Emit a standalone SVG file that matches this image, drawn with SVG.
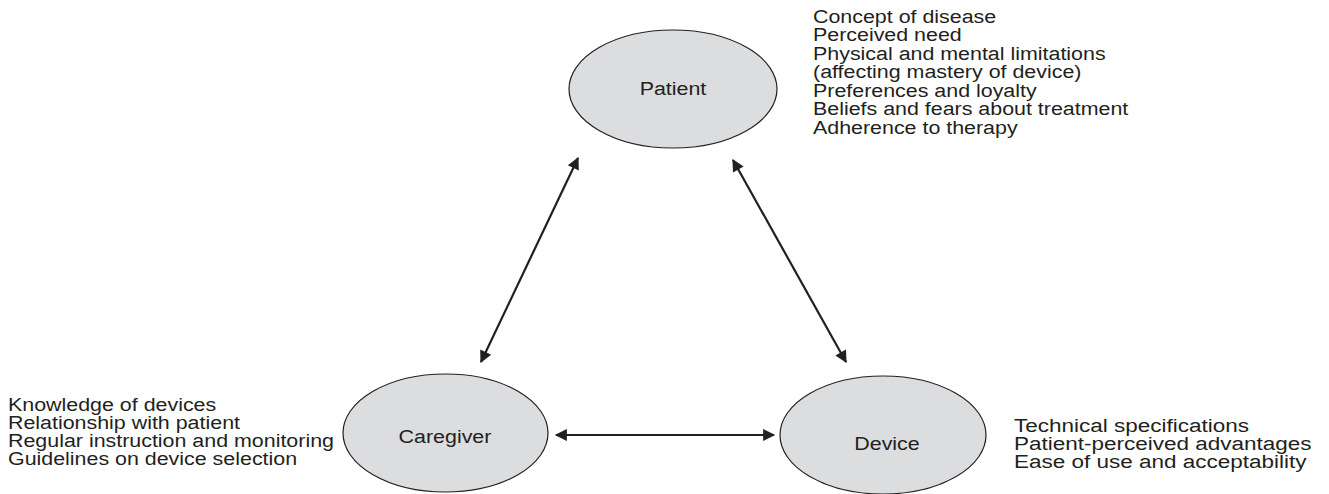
<svg xmlns="http://www.w3.org/2000/svg" width="1329" height="494" viewBox="0 0 1329 494">
<style>
.node ellipse{fill:#dcdddf;stroke:#231f20;stroke-width:1.2}
text{font-family:"Liberation Sans",Arial,sans-serif;font-size:18px;fill:#231f20}
.lbl{text-anchor:middle}
.conn line{stroke:#231f20;stroke-width:2.2;marker-start:url(#ah);marker-end:url(#ah)}
</style>
<defs>
<marker id="ah" viewBox="0 0 10 10" refX="9" refY="5" markerWidth="7" markerHeight="5.5" orient="auto-start-reverse" markerUnits="strokeWidth">
<path d="M0,0 L10,5 L0,10 z" fill="#231f20"/>
</marker>
</defs>
<g id="patient" class="node">
<ellipse cx="673" cy="89" rx="104" ry="59"/>
<text class="lbl" x="0" y="95" transform="translate(673,0) scale(1.19,1)">Patient</text>
</g>
<g id="caregiver" class="node">
<ellipse cx="445.5" cy="433" rx="102.5" ry="59"/>
<text class="lbl" x="0" y="443" transform="translate(445,0) scale(1.19,1)">Caregiver</text>
</g>
<g id="device" class="node">
<ellipse cx="883" cy="435" rx="103" ry="59"/>
<text class="lbl" x="0" y="450" transform="translate(887,0) scale(1.19,1)">Device</text>
</g>
<g id="patient-notes" transform="translate(813,0) scale(1.19,1)">
<text x="0" y="23">Concept of disease</text>
<text x="0" y="41.5">Perceived need</text>
<text x="0" y="60">Physical and mental limitations</text>
<text x="0" y="78.5">(affecting mastery of device)</text>
<text x="0" y="97">Preferences and loyalty</text>
<text x="0" y="115.5">Beliefs and fears about treatment</text>
<text x="0" y="134">Adherence to therapy</text>
</g>
<g id="caregiver-notes" transform="translate(8,0) scale(1.19,1)">
<text x="0" y="411">Knowledge of devices</text>
<text x="0" y="429">Relationship with patient</text>
<text x="0" y="447">Regular instruction and monitoring</text>
<text x="0" y="465">Guidelines on device selection</text>
</g>
<g id="device-notes" transform="translate(1014,0) scale(1.25,1)">
<text x="0" y="432">Technical specifications</text>
<text x="0" y="450">Patient-perceived advantages</text>
<text x="0" y="468">Ease of use and acceptability</text>
</g>
<g id="connectors" class="conn">
<line x1="481" y1="362" x2="578" y2="158"/>
<line x1="733" y1="160" x2="846" y2="362"/>
<line x1="556" y1="435" x2="774" y2="435"/>
</g>
</svg>
